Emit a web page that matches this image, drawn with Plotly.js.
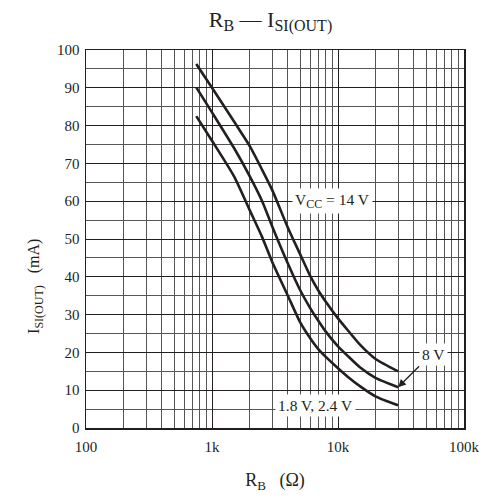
<!DOCTYPE html>
<html>
<head>
<meta charset="utf-8">
<script src="https://cdn.plot.ly/plotly-3.0.1.min.js"></script>
<style>html,body{margin:0;padding:0;background:#fff;}#chart{width:483px;height:496px;}</style>
</head>
<body>
<div id="chart"></div>
<script>
// Resistance R_B (ohm)
const rb = [750, 1000, 1500, 2000, 2500, 3000, 4000, 5000, 6000, 7000, 8000, 10000, 12000, 15000, 20000, 30000];
// I_SI(OUT) (mA) for each supply voltage
const vcc14 = [96.3, 90, 81, 74.5, 68.3, 63, 53, 46, 40.3, 36.3, 33.4, 29, 25.8, 22, 18.2, 15];
const vcc8 = [90.1, 83.5, 74, 66.5, 60, 53.4, 43.5, 36.5, 31.8, 28.3, 25.5, 21.6, 19, 16, 13.2, 10.8];
const vcc18 = [82.5, 76, 66.5, 57.5, 50.5, 44, 35, 28, 23.8, 20.8, 18.8, 15.8, 13.5, 11, 8.3, 6];

const xTickVals = [100, 1000, 10000, 100000];
const xTickText = ['100', '1k', '10k', '100k'];
const xMinorVals = [];
[100, 1000, 10000].forEach(d => { for (let m = 2; m <= 9; m++) xMinorVals.push(d * m); });

const font = 'Liberation Serif, Times New Roman, serif';
const ink = '#231f20';
const lineStyle = {color: ink, width: 2.6, shape: 'spline', smoothing: 0.6};
const sub = (t, px) => '<sub><span style="font-size:' + px + 'px">' + t + '</span></sub>';

const traces = [
  {x: rb, y: vcc14, mode: 'lines', line: lineStyle, name: 'VCC = 14 V'},
  {x: rb, y: vcc8, mode: 'lines', line: lineStyle, name: '8 V'},
  {x: rb, y: vcc18, mode: 'lines', line: lineStyle, name: '1.8 V, 2.4 V'}
];

const layout = {
  width: 483, height: 496,
  margin: {l: 86, r: 19, t: 50, b: 68},
  paper_bgcolor: '#fff', plot_bgcolor: '#fff',
  showlegend: false,
  font: {family: font, size: 15, color: ink},
  title: {text: 'R' + sub('B', 16) + ' — I' + sub('SI(OUT)', 16), x: 0.56, xanchor: 'center', y: 0.962, yanchor: 'middle', font: {family: font, size: 22, color: ink}},
  xaxis: {
    type: 'log', range: [2, 5],
    tickmode: 'array', tickvals: xTickVals, ticktext: xTickText,
    showgrid: true, gridcolor: ink, gridwidth: 1,
    minor: {tickmode: 'array', tickvals: xMinorVals, showgrid: true, gridcolor: '#555', gridwidth: 1, ticks: ''},
    showline: true, linecolor: ink, linewidth: 1.5, mirror: true,
    ticks: '', zeroline: false, ticklabelstandoff: 4,
    tickfont: {family: font, size: 15, color: ink},
    title: {text: 'R' + sub('B', 13) + '&nbsp;&nbsp;&nbsp;(Ω)', font: {family: font, size: 18, color: ink}, standoff: 20}
  },
  yaxis: {
    range: [0, 100], dtick: 10, tick0: 0,
    showgrid: true, gridcolor: ink, gridwidth: 1,
    minor: {dtick: 5, showgrid: true, gridcolor: '#555', gridwidth: 1, ticks: ''},
    showline: true, linecolor: ink, linewidth: 1.5, mirror: true,
    ticks: '', zeroline: false, ticklabelstandoff: 2,
    tickfont: {family: font, size: 15, color: ink}
  },
  annotations: [
    {xref: 'paper', yref: 'paper', x: -0.165, y: 0.375, textangle: -90, showarrow: false,
     text: 'I' + sub('SI(OUT)', 12) + '&nbsp;&nbsp;&nbsp;(mA)', font: {family: font, size: 16, color: ink}},
    {x: Math.log10(9100), y: 60, xref: 'x', yref: 'y', text: 'V' + sub('CC', 12) + ' = 14 V', showarrow: false,
     bgcolor: '#fff', font: {family: font, size: 15.5, color: ink}, borderpad: 2},
    {x: Math.log10(30000), y: vcc8[vcc8.length - 1], xref: 'x', yref: 'y', text: '8 V',
     showarrow: true, arrowhead: 2, arrowsize: 1.2, arrowwidth: 1.3, arrowcolor: ink,
     ax: 21, ay: -21, bgcolor: '#fff', font: {family: font, size: 15.5, color: ink}, borderpad: 2,
     xanchor: 'left', yanchor: 'bottom'},
    {x: Math.log10(6600), y: 6, xref: 'x', yref: 'y', text: '1.8 V, 2.4 V', showarrow: false,
     bgcolor: '#fff', font: {family: font, size: 15.5, color: ink}, borderpad: 2}
  ]
};

Plotly.newPlot('chart', traces, layout, {displayModeBar: false, staticPlot: true});
</script>
</body>
</html>
